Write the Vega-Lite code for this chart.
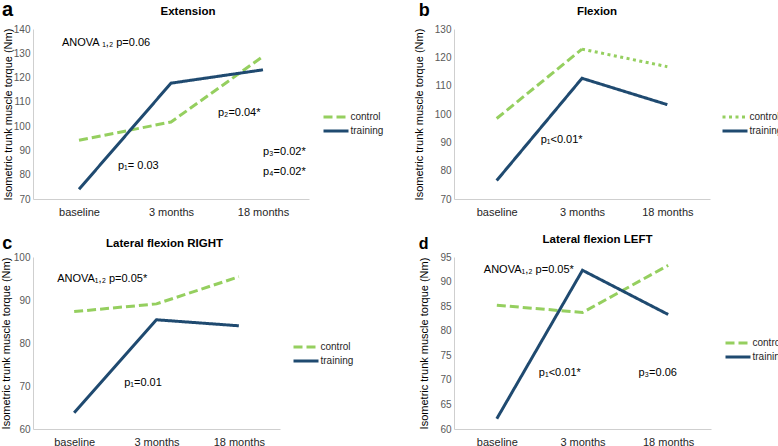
{
  "$schema": "https://vega.github.io/schema/vega-lite/v6.json",
  "padding": 0,
  "datasets": {
    "torque": [
      {"panel": "a", "group": "control", "time": "baseline", "torque": 94.2},
      {"panel": "a", "group": "control", "time": "3 months", "torque": 101.7},
      {"panel": "a", "group": "control", "time": "18 months", "torque": 128.7},
      {"panel": "a", "group": "training", "time": "baseline", "torque": 74.0},
      {"panel": "a", "group": "training", "time": "3 months", "torque": 117.7},
      {"panel": "a", "group": "training", "time": "18 months", "torque": 123.2},
      {"panel": "b", "group": "control", "time": "baseline", "torque": 98.4},
      {"panel": "b", "group": "control", "time": "3 months", "torque": 122.9},
      {"panel": "b", "group": "control", "time": "18 months", "torque": 116.7},
      {"panel": "b", "group": "training", "time": "baseline", "torque": 76.5},
      {"panel": "b", "group": "training", "time": "3 months", "torque": 112.6},
      {"panel": "b", "group": "training", "time": "18 months", "torque": 103.3},
      {"panel": "c", "group": "control", "time": "baseline", "torque": 87.3},
      {"panel": "c", "group": "control", "time": "3 months", "torque": 89.1},
      {"panel": "c", "group": "control", "time": "18 months", "torque": 95.4},
      {"panel": "c", "group": "training", "time": "baseline", "torque": 63.8},
      {"panel": "c", "group": "training", "time": "3 months", "torque": 85.4},
      {"panel": "c", "group": "training", "time": "18 months", "torque": 84.0},
      {"panel": "d", "group": "control", "time": "baseline", "torque": 85.2},
      {"panel": "d", "group": "control", "time": "3 months", "torque": 83.7},
      {"panel": "d", "group": "control", "time": "18 months", "torque": 93.3},
      {"panel": "d", "group": "training", "time": "baseline", "torque": 62.1},
      {"panel": "d", "group": "training", "time": "3 months", "torque": 92.3},
      {"panel": "d", "group": "training", "time": "18 months", "torque": 83.3}
    ]
  },
  "columns": 2,
  "spacing": {"column": 29, "row": 16},
  "resolve": {"scale": {"color": "independent", "strokeDash": "independent"}},
  "concat": [
    {
      "width": 276,
      "height": 170,
      "title": {"text": "Extension", "dx": 17, "offset": -17},
      "layer": [
        {
          "data": {"name": "torque"},
          "transform": [{"filter": "datum.panel === 'a'"}],
          "mark": {"type": "line", "strokeWidth": 3},
          "encoding": {
            "x": {"field": "time", "type": "ordinal",
                  "scale": {"type": "point", "padding": 0.5, "domain": ["baseline", "3 months", "18 months"]}},
            "y": {"field": "torque", "type": "quantitative", "title": "Isometric trunk muscle torque (Nm)",
                  "scale": {"domain": [70, 140], "nice": false, "zero": false},
                  "axis": {"values": [70, 80, 90, 100, 110, 120, 130, 140], "titlePadding": 0}},
            "color": {"field": "group", "type": "nominal",
                      "scale": {"domain": ["control", "training"], "range": ["#95cf5f", "#1f4a70"]},
                      "legend": {"legendX": 295, "legendY": 80}},
            "strokeDash": {"field": "group", "type": "nominal",
                           "scale": {"domain": ["control", "training"], "range": [[9, 4], [1, 0]]},
                           "legend": {"legendX": 295, "legendY": 80}}
          }
        },
        {"data": {"values": [{}]}, "mark": {"type": "text", "fontSize": 20, "fontWeight": "bold", "align": "left", "baseline": "alphabetic", "dx": -77},
         "encoding": {"x": {"datum": "baseline", "type": "ordinal"}, "y": {"datum": 145.2, "type": "quantitative", "axis": {"values": [70, 80, 90, 100, 110, 120, 130, 140], "titlePadding": 0}}, "text": {"value": "a"}}},
        {"data": {"values": [{}]}, "mark": {"type": "text", "align": "left", "dx": -17},
         "encoding": {"x": {"datum": "baseline", "type": "ordinal"}, "y": {"datum": 134.2, "type": "quantitative", "axis": {"values": [70, 80, 90, 100, 110, 120, 130, 140], "titlePadding": 0}}, "text": {"value": "ANOVA ₁,₂ p=0.06"}}},
        {"data": {"values": [{}]}, "mark": {"type": "text", "align": "left", "dx": 39},
         "encoding": {"x": {"datum": "baseline", "type": "ordinal"}, "y": {"datum": 83.6, "type": "quantitative", "axis": {"values": [70, 80, 90, 100, 110, 120, 130, 140], "titlePadding": 0}}, "text": {"value": "p₁= 0.03"}}},
        {"data": {"values": [{}]}, "mark": {"type": "text", "align": "left", "dx": 47},
         "encoding": {"x": {"datum": "3 months", "type": "ordinal"}, "y": {"datum": 105.4, "type": "quantitative", "axis": {"values": [70, 80, 90, 100, 110, 120, 130, 140], "titlePadding": 0}}, "text": {"value": "p₂=0.04*"}}},
        {"data": {"values": [{}]}, "mark": {"type": "text", "align": "left", "dx": 0},
         "encoding": {"x": {"datum": "18 months", "type": "ordinal"}, "y": {"datum": 89.4, "type": "quantitative", "axis": {"values": [70, 80, 90, 100, 110, 120, 130, 140], "titlePadding": 0}}, "text": {"value": "p₃=0.02*"}}},
        {"data": {"values": [{}]}, "mark": {"type": "text", "align": "left", "dx": 0},
         "encoding": {"x": {"datum": "18 months", "type": "ordinal"}, "y": {"datum": 81.1, "type": "quantitative", "axis": {"values": [70, 80, 90, 100, 110, 120, 130, 140], "titlePadding": 0}}, "text": {"value": "p₄=0.02*"}}}
      ]
    },
    {
      "width": 256,
      "height": 170,
      "title": {"text": "Flexion", "dx": 15, "offset": -16},
      "layer": [
        {
          "data": {"name": "torque"},
          "transform": [{"filter": "datum.panel === 'b' && (datum.group === 'training' || datum.time !== 'baseline')"}],
          "mark": {"type": "line", "strokeWidth": 3},
          "encoding": {
            "x": {"field": "time", "type": "ordinal",
                  "scale": {"type": "point", "padding": 0.5, "domain": ["baseline", "3 months", "18 months"]}},
            "y": {"field": "torque", "type": "quantitative", "title": "Isometric trunk muscle torque (Nm)",
                  "scale": {"domain": [70, 130], "nice": false, "zero": false},
                  "axis": {"values": [70, 80, 90, 100, 110, 120, 130], "titlePadding": 10}},
            "color": {"field": "group", "type": "nominal",
                      "scale": {"domain": ["control", "training"], "range": ["#95cf5f", "#1f4a70"]},
                      "legend": {"legendX": 273, "legendY": 80}},
            "strokeDash": {"field": "group", "type": "nominal",
                           "scale": {"domain": ["control", "training"], "range": [[3, 3.5], [1, 0]]},
                           "legend": {"legendX": 273, "legendY": 80}}
          }
        },
        {
          "data": {"name": "torque"},
          "transform": [{"filter": "datum.panel === 'b' && datum.group === 'control' && datum.time !== '18 months'"}],
          "mark": {"type": "line", "strokeWidth": 3, "strokeDash": [9, 4]},
          "encoding": {
            "x": {"field": "time", "type": "ordinal"},
            "y": {"field": "torque", "type": "quantitative", "axis": {"values": [70, 80, 90, 100, 110, 120, 130], "titlePadding": 10}},
            "color": {"field": "group", "type": "nominal"}
          }
        },
        {"data": {"values": [{}]}, "mark": {"type": "text", "fontSize": 18, "fontWeight": "bold", "align": "left", "baseline": "alphabetic", "dx": -78},
         "encoding": {"x": {"datum": "baseline", "type": "ordinal"}, "y": {"datum": 134.6, "type": "quantitative", "axis": {"values": [70, 80, 90, 100, 110, 120, 130], "titlePadding": 10}}, "text": {"value": "b"}}},
        {"data": {"values": [{}]}, "mark": {"type": "text", "align": "left", "dx": 44},
         "encoding": {"x": {"datum": "baseline", "type": "ordinal"}, "y": {"datum": 90.8, "type": "quantitative", "axis": {"values": [70, 80, 90, 100, 110, 120, 130], "titlePadding": 10}}, "text": {"value": "p₁<0.01*"}}}
      ]
    },
    {
      "width": 247,
      "height": 172,
      "title": {"text": "Lateral flexion RIGHT", "dx": 8, "offset": -15},
      "layer": [
        {
          "data": {"name": "torque"},
          "transform": [{"filter": "datum.panel === 'c'"}],
          "mark": {"type": "line", "strokeWidth": 3},
          "encoding": {
            "x": {"field": "time", "type": "ordinal",
                  "scale": {"type": "point", "padding": 0.5, "domain": ["baseline", "3 months", "18 months"]}},
            "y": {"field": "torque", "type": "quantitative", "title": "Isometric trunk muscle torque (Nm)",
                  "scale": {"domain": [60, 100], "nice": false, "zero": false},
                  "axis": {"values": [60, 70, 80, 90, 100], "titlePadding": 2}},
            "color": {"field": "group", "type": "nominal",
                      "scale": {"domain": ["control", "training"], "range": ["#95cf5f", "#1f4a70"]},
                      "legend": {"legendX": 265, "legendY": 82}},
            "strokeDash": {"field": "group", "type": "nominal",
                           "scale": {"domain": ["control", "training"], "range": [[9, 4], [1, 0]]},
                           "legend": {"legendX": 265, "legendY": 82}}
          }
        },
        {"data": {"values": [{}]}, "mark": {"type": "text", "fontSize": 18, "fontWeight": "bold", "align": "left", "baseline": "alphabetic", "dx": -72},
         "encoding": {"x": {"datum": "baseline", "type": "ordinal"}, "y": {"datum": 101.9, "type": "quantitative", "axis": {"values": [60, 70, 80, 90, 100], "titlePadding": 2}}, "text": {"value": "c"}}},
        {"data": {"values": [{}]}, "mark": {"type": "text", "align": "left", "dx": -17},
         "encoding": {"x": {"datum": "baseline", "type": "ordinal"}, "y": {"datum": 94.9, "type": "quantitative", "axis": {"values": [60, 70, 80, 90, 100], "titlePadding": 2}}, "text": {"value": "ANOVA₁,₂ p=0.05*"}}},
        {"data": {"values": [{}]}, "mark": {"type": "text", "align": "left", "dx": 50},
         "encoding": {"x": {"datum": "baseline", "type": "ordinal"}, "y": {"datum": 70.7, "type": "quantitative", "axis": {"values": [60, 70, 80, 90, 100], "titlePadding": 2}}, "text": {"value": "p₁=0.01"}}}
      ]
    },
    {
      "width": 257,
      "height": 172,
      "title": {"text": "Lateral flexion LEFT", "dx": 15, "offset": -9},
      "layer": [
        {
          "data": {"name": "torque"},
          "transform": [{"filter": "datum.panel === 'd'"}],
          "mark": {"type": "line", "strokeWidth": 3},
          "encoding": {
            "x": {"field": "time", "type": "ordinal",
                  "scale": {"type": "point", "padding": 0.5, "domain": ["baseline", "3 months", "18 months"]}},
            "y": {"field": "torque", "type": "quantitative", "title": "Isometric trunk muscle torque (Nm)",
                  "scale": {"domain": [60, 95], "nice": false, "zero": false},
                  "axis": {"values": [60, 65, 70, 75, 80, 85, 90, 95], "titlePadding": 10}},
            "color": {"field": "group", "type": "nominal",
                      "scale": {"domain": ["control", "training"], "range": ["#95cf5f", "#1f4a70"]},
                      "legend": {"legendX": 276, "legendY": 78}},
            "strokeDash": {"field": "group", "type": "nominal",
                           "scale": {"domain": ["control", "training"], "range": [[9, 4], [1, 0]]},
                           "legend": {"legendX": 276, "legendY": 78}}
          }
        },
        {"data": {"values": [{}]}, "mark": {"type": "text", "fontSize": 16, "fontWeight": "bold", "align": "left", "baseline": "alphabetic", "dx": -78},
         "encoding": {"x": {"datum": "baseline", "type": "ordinal"}, "y": {"datum": 96.6, "type": "quantitative", "axis": {"values": [60, 65, 70, 75, 80, 85, 90, 95], "titlePadding": 10}}, "text": {"value": "d"}}},
        {"data": {"values": [{}]}, "mark": {"type": "text", "align": "left", "dx": -13},
         "encoding": {"x": {"datum": "baseline", "type": "ordinal"}, "y": {"datum": 92.4, "type": "quantitative", "axis": {"values": [60, 65, 70, 75, 80, 85, 90, 95], "titlePadding": 10}}, "text": {"value": "ANOVA₁,₂ p=0.05*"}}},
        {"data": {"values": [{}]}, "mark": {"type": "text", "align": "left", "dx": 42},
         "encoding": {"x": {"datum": "baseline", "type": "ordinal"}, "y": {"datum": 71.4, "type": "quantitative", "axis": {"values": [60, 65, 70, 75, 80, 85, 90, 95], "titlePadding": 10}}, "text": {"value": "p₁<0.01*"}}},
        {"data": {"values": [{}]}, "mark": {"type": "text", "align": "left", "dx": 56},
         "encoding": {"x": {"datum": "3 months", "type": "ordinal"}, "y": {"datum": 71.4, "type": "quantitative", "axis": {"values": [60, 65, 70, 75, 80, 85, 90, 95], "titlePadding": 10}}, "text": {"value": "p₃=0.06"}}}
      ]
    }
  ],
  "config": {
    "font": "Liberation Sans",
    "view": {"stroke": null},
    "axis": {"grid": false, "ticks": false, "domainColor": "#cfcfcf", "domainWidth": 1, "labelFont": "Liberation Sans", "titleFont": "Liberation Sans"},
    "axisX": {"title": null, "labelAngle": 0, "labelFontSize": 11, "labelColor": "#262626", "labelPadding": 7},
    "axisY": {"labelFontSize": 10, "labelColor": "#595959", "labelPadding": 3, "titleFontSize": 11, "titleFontWeight": "normal", "titleColor": "#000000"},
    "title": {"fontSize": 11.5, "fontWeight": "bold", "color": "#000000", "anchor": "middle"},
    "legend": {"orient": "none", "title": null, "symbolType": "M-2,0H2", "symbolSize": 156.25, "symbolStrokeWidth": 3, "labelFontSize": 10, "labelColor": "#262626", "labelOffset": 6.5, "rowPadding": 0},
    "text": {"fontSize": 11, "color": "#000000", "baseline": "middle"}
  }
}
